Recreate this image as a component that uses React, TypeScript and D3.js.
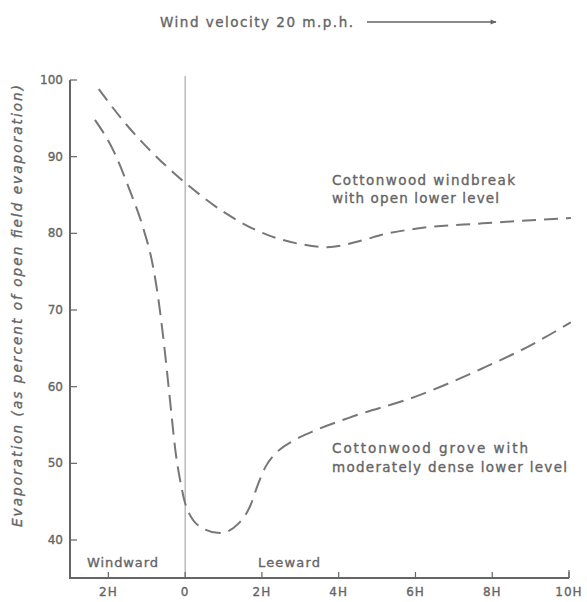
import React from "react";
import * as d3 from "d3";

// distance from windbreak in multiples of tree height H (negative = windward)
const upperX = [-2.25, -1.5, -0.75, 0, 1, 1.9, 3, 3.7, 4.55, 5.2, 6, 7.75, 10.05];
const upperY = [98.8, 94.0, 90.0, 86.6, 82.8, 80.3, 78.6, 78.2, 79.0, 79.9, 80.6, 81.3, 82.0];

const lowerX = [-2.35, -1.85, -1.45, -1.1, -0.85, -0.7, -0.55, -0.4, -0.25, -0.1, 0, 0.4, 0.9, 1.4, 1.7, 1.9, 2.1, 2.4, 2.8, 3.3, 4.3, 6, 7.75, 9, 10.05];
const lowerY = [94.8, 90.6, 85.7, 80.8, 76.0, 71.5, 65.5, 58.5, 51.5, 47.0, 44.8, 41.7, 40.9, 42.2, 44.5, 47.3, 49.6, 51.5, 52.9, 54.1, 56.0, 58.7, 62.4, 65.4, 68.4];

const xTicks = [-2, 0, 2, 4, 6, 8, 10];
const xTickLabels = ["2H", "0", "2H", "4H", "6H", "8H", "10H"];
const yTicks = [40, 50, 60, 70, 80, 90, 100];

const W = 587;
const H = 602;
const ink = "#656565";
const font = "'DejaVu Sans', sans-serif";
const bold = { stroke: ink, strokeWidth: 0.35 };

export default function App() {
  const x = d3.scaleLinear().domain([-3, 10]).range([70, 569]);
  const y = d3.scaleLinear().domain([40, 100]).range([540, 80]);
  const axisY = y(35.05);

  const line = d3
    .line<[number, number]>()
    .x((d) => x(d[0]))
    .y((d) => y(d[1]))
    .curve(d3.curveMonotoneX);

  const upper = line(upperX.map((v, i) => [v, upperY[i]]) as [number, number][]);
  const lower = line(lowerX.map((v, i) => [v, lowerY[i]]) as [number, number][]);

  return (
    <svg
      width={W}
      height={H}
      style={{ position: "absolute", left: 0, top: 0, background: "#fff" }}
    >
      <defs>
        <marker id="arrow" viewBox="0 0 10 10" refX="9" refY="5" markerWidth="5" markerHeight="4" orient="auto">
          <path d="M0,1 L10,5 L0,9 Z" fill={ink} />
        </marker>
      </defs>

      {/* title */}
      <text x={160} y={27} fontFamily={font} fontSize={13.5} fill={ink} {...bold} textLength={193} lengthAdjust="spacing">
        Wind velocity 20 m.p.h.
      </text>
      <line x1={367} x2={496} y1={22} y2={22} stroke={ink} strokeWidth={1.5} markerEnd="url(#arrow)" />

      {/* vertical line at windbreak */}
      <line x1={x(0)} x2={x(0)} y1={76} y2={axisY} stroke="#999" strokeWidth={1} />

      {/* y axis */}
      <line x1={x(-3)} x2={x(-3)} y1={y(100)} y2={axisY} stroke={ink} strokeWidth={2} />
      {yTicks.map((t) => (
        <g key={t}>
          <line x1={x(-3)} x2={x(-3) + 7} y1={y(t)} y2={y(t)} stroke={ink} strokeWidth={1.2} />
          <text x={63} y={y(t) + 4} textAnchor="end" fontFamily={font} fontSize={12} fill={ink} {...bold}>
            {t}
          </text>
        </g>
      ))}

      {/* x axis */}
      <line x1={x(-3) - 1} x2={x(10)} y1={axisY} y2={axisY} stroke={ink} strokeWidth={2} />
      <line x1={x(10)} x2={x(10)} y1={axisY} y2={axisY - 8} stroke={ink} strokeWidth={1.2} />
      {xTicks.map((t, i) => (
        <g key={i}>
          <line x1={x(t)} x2={x(t)} y1={axisY} y2={axisY - 6} stroke={ink} strokeWidth={1.2} />
          <text x={x(t)} y={596} textAnchor="middle" fontFamily={font} fontSize={12} fill={ink} {...bold} letterSpacing={1}>
            {xTickLabels[i]}
          </text>
        </g>
      ))}

      <text x={87} y={567} fontFamily={font} fontSize={13} fill={ink} {...bold} textLength={71} lengthAdjust="spacing">
        Windward
      </text>
      <text x={258} y={567} fontFamily={font} fontSize={13} fill={ink} {...bold} textLength={62} lengthAdjust="spacing">
        Leeward
      </text>

      {/* y axis title */}
      <text
        transform={`translate(22,306) rotate(-90)`}
        textAnchor="middle"
        fontFamily={font}
        fontStyle="italic"
        fontSize={13.5}
        fill={ink}
        {...bold}
        textLength={442}
        lengthAdjust="spacing"
      >
        Evaporation (as percent of open field evaporation)
      </text>

      {/* curves */}
      <path d={upper ?? ""} fill="none" stroke="#777" strokeWidth={2} strokeDasharray="14 8" />
      <path d={lower ?? ""} fill="none" stroke="#777" strokeWidth={2} strokeDasharray="16 8" />

      {/* annotations */}
      <text x={332} y={185} fontFamily={font} fontSize={13.5} fill={ink} {...bold} textLength={183} lengthAdjust="spacing">
        Cottonwood windbreak
      </text>
      <text x={332} y={203} fontFamily={font} fontSize={13.5} fill={ink} {...bold} textLength={167} lengthAdjust="spacing">
        with open lower level
      </text>
      <text x={332} y={453} fontFamily={font} fontSize={13.5} fill={ink} {...bold} textLength={196} lengthAdjust="spacing">
        Cottonwood grove with
      </text>
      <text x={332} y={472} fontFamily={font} fontSize={13.5} fill={ink} {...bold} textLength={235} lengthAdjust="spacing">
        moderately dense lower level
      </text>
    </svg>
  );
}
